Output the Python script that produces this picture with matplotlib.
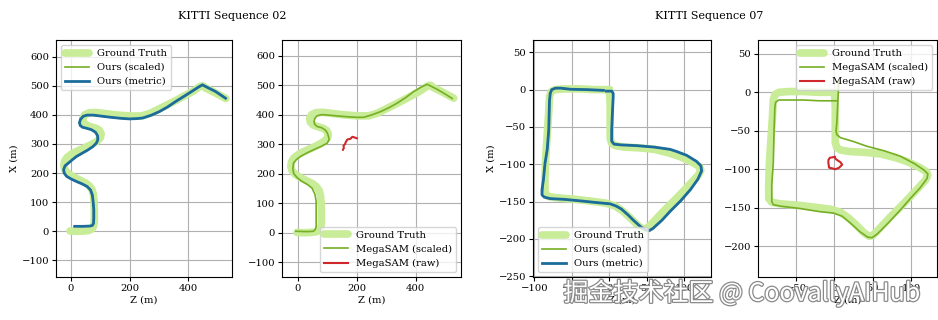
import matplotlib
matplotlib.use('Agg')
import matplotlib.patheffects as pe
import numpy as np
from matplotlib import pyplot as plt

# KITTI 02: (Z, X) in metres
GT_02_Z = [-3, 20, 45, 62, 73, 78, 80, 80, 79, 77, 72, 63, 50, 32, 12, -8, -20, -24, -22, -14,
           0, 20, 45, 70, 90, 101, 103, 97, 85, 68, 52, 42, 40, 47, 62, 85, 110, 150, 200, 240,
           270, 314, 350, 382, 415, 440, 450, 460, 490, 529]
GT_02_X = [1, 0, 1, 3, 9, 20, 35, 70, 100, 125, 143, 156, 166, 175, 185, 197, 210, 224, 240, 253,
           264, 275, 286, 298, 310, 322, 335, 347, 354, 359, 365, 375, 388, 400, 407, 408, 405, 400, 396, 396,
           405, 427, 445, 462, 480, 497, 500, 492, 477, 456]

OURS_02_Z = [13, 40, 65, 73, 77, 78, 78, 76, 73, 67, 55, 38, 19, 0, -15, -23, -25, -20, -9, 5,
             19, 40, 59, 75, 87, 92, 91, 84, 70, 53, 40, 32, 29, 33, 42, 55, 76, 100, 132, 170,
             200, 225, 245, 275, 302, 330, 358, 390, 415, 435, 449, 470, 494, 528]
OURS_02_X = [17, 17, 18, 20, 27, 45, 75, 100, 125, 142, 154, 163, 171, 180, 189, 200, 212, 225, 234, 246,
             257, 269, 280, 291, 303, 315, 328, 340, 349, 354, 357, 363, 373, 385, 395, 399, 399, 396, 392, 388,
             386, 387, 389, 399, 411, 427, 446, 466, 482, 495, 503, 492, 480, 457]
OURS_SC_02_Z = [12, 40, 65, 73, 77, 78, 78, 76, 73, 67, 55, 38, 19, 0, -15, -23, -24, -20, -9, 5,
                19, 40, 59, 75, 87, 91, 91, 84, 70, 53, 40, 32, 29, 33, 42, 55, 76, 100, 132, 170,
                200, 225, 245, 275, 302, 330, 358, 390, 415, 435, 448, 470, 494, 528]
OURS_SC_02_X = [18, 17, 18, 20, 27, 45, 75, 100, 125, 142, 154, 163, 171, 180, 189, 200, 212, 225, 234, 246,
                257, 269, 280, 291, 303, 315, 328, 340, 349, 354, 357, 363, 373, 385, 395, 399, 399, 396, 392, 388,
                386, 387, 389, 399, 411, 427, 446, 466, 482, 495, 502, 492, 480, 457]

MEGA_SC_02_Z = [-7, 20, 40, 53, 59, 62, 62, 62, 58, 48, 33, 14, -3, -14, -17, -15, -5, 8, 30, 53,
                80, 99, 106, 104, 100, 93, 80, 65, 57, 55, 58, 65, 80, 99, 130, 167, 200, 223, 250, 280,
                310, 337, 365, 393, 420, 439, 455, 473, 500, 524]
MEGA_SC_02_X = [5, 4, 4, 5, 11, 21, 60, 106, 130, 151, 163, 174, 187, 200, 215, 236, 248, 258, 270, 281,
                293, 303, 315, 326, 338, 348, 356, 360, 367, 377, 388, 396, 400, 399, 396, 393, 391, 391, 399, 410,
                424, 439, 457, 478, 494, 503, 495, 486, 470, 455]
MEGA_RAW_02_Z = [200, 192, 185, 178, 168, 163, 160, 155, 156, 153]
MEGA_RAW_02_X = [320, 323, 325, 318, 316, 308, 300, 295, 287, 281]

# KITTI 07
GT_07_Z = [0, 1, 1, 1, 3, 8, 20, 40, 60, 80, 95, 110, 120, 122, 119, 108, 90, 72, 58, 50,
           45, 38, 28, 18, 8, -5, -20, -45, -70, -82, -86, -86, -85, -83, -81, -80, -78, -73, -60, -40,
           -20, -5, 0]
GT_07_X = [0, -20, -45, -65, -72, -75, -77, -78, -80, -85, -90, -97, -103, -108, -114, -126, -145, -163, -178, -186,
           -187, -182, -172, -163, -156, -152, -150, -147, -145, -143, -138, -120, -90, -60, -30, -10, -3, 0, 1, 1,
           0, 0, 0]

OURS_07_Z = [-8, -30, -52, -65, -72, -77, -79, -80, -81, -83, -86, -88, -90, -90, -87, -79, -60, -39, -20, 1,
             9, 16, 25, 32, 42, 48, 53, 58, 70, 81, 95, 108, 118, 123, 122, 116, 103, 90, 81, 60,
             36, 15, 6, 3, 3, 4, 5, 5, 3, -4]
OURS_07_X = [-1, 0, 0.5, 2, 2, 0, -5, -15, -54, -80, -99, -120, -134, -141, -144, -146, -147, -149, -151, -153,
             -156, -160, -168, -175, -184, -188, -189, -186, -175, -163, -149, -134, -120, -109, -102, -96, -88, -83, -80, -77,
             -75, -74, -73, -69, -54, -30, -10, -5, -2, -2]
OURS_SC_07_Z = [-8, -30, -52, -65, -72, -77, -79, -80, -81, -83, -86, -88, -89, -90, -87, -79, -60, -39, -20, 1,
                9, 16, 25, 32, 42, 48, 53, 58, 70, 81, 95, 108, 118, 122, 122, 116, 103, 90, 81, 60,
                36, 15, 6, 3, 3, 4, 5, 5, 3, -4]
OURS_SC_07_X = [-1, 0, 0.5, 2, 2, 0, -5, -15, -54, -80, -99, -120, -134, -141, -144, -146, -147, -149, -151, -153,
                -156, -160, -168, -175, -184, -187, -188, -186, -175, -163, -149, -134, -120, -109, -102, -96, -88, -83, -80, -77,
                -75, -74, -73, -69, -54, -30, -10, -5, -2, -2]

MEGA_SC_07_Z = [5, 5, 4, 3, 2, 3, 8, 25, 42, 65, 86, 105, 117, 122, 121, 112, 100, 86, 70, 56,
                49, 43, 33, 21, 10, -1, -20, -45, -70, -80, -82, -82, -80, -79, -78, -77, -73, -60, -40, -20,
                -6, 3]
MEGA_SC_07_X = [14, 0, -20, -40, -50, -55, -59, -64, -70, -76, -83, -93, -101, -106, -112, -124, -137, -153, -170, -184,
                -189, -188, -181, -170, -161, -157, -155, -151, -148, -146, -142, -120, -92, -50, -20, -13, -10, -10, -10, -11,
                -11, -11]
MEGA_RAW_07_Z = [0, -6, -8, -8, -7, -2, 1, 6, 10, 8, 5, 2, 0]
MEGA_RAW_07_X = [-84, -85, -88, -92, -98, -99, -100, -98, -94, -91, -89, -87, -84]

C_GT = "#c8ec98"
C_SC = "#76ae24"
C_MET = "#1b6c9c"
C_RAW = "#d0282a"

plt.rcParams['font.family'] = 'DejaVu Serif'
plt.rcParams['font.size'] = 7.2
plt.rcParams['axes.unicode_minus'] = True

W, H = 938, 320
fig = plt.figure(figsize=(W / 100, H / 100), dpi=100)


def add_ax(left, right, top=40, bottom=277):
    return fig.add_axes([left / W, (H - bottom) / H, (right - left) / W, (bottom - top) / H])


def gt(ax, z, x):
    ax.plot(z, x, color=C_GT, lw=5.5, solid_capstyle='round', solid_joinstyle='round', label="Ground Truth")


def line(ax, z, x, color, lw, label):
    ax.plot(z, x, color=color, lw=lw, solid_joinstyle='round', label=label)


def style(ax, xlim, ylim, xticks, yticks, ylabel=True):
    ax.set_xlim(*xlim)
    ax.set_ylim(*ylim)
    ax.set_xticks(xticks)
    ax.set_yticks(yticks)
    ax.grid(True, color="#b0b0b0", lw=0.8)
    ax.set_axisbelow(True)
    ax.set_xlabel("Z (m)", labelpad=2)
    if ylabel:
        ax.set_ylabel("X (m)", labelpad=2)
    ax.tick_params(length=3, pad=2)


def legend(ax, loc):
    ax.legend(loc=loc, handlelength=2.4, fontsize=7.2, borderaxespad=0.5)


ax1 = add_ax(56, 232)
gt(ax1, GT_02_Z, GT_02_X)
line(ax1, OURS_SC_02_Z, OURS_SC_02_X, C_SC, 1.2, "Ours (scaled)")
line(ax1, OURS_02_Z, OURS_02_X, C_MET, 2.0, "Ours (metric)")
style(ax1, (-51, 550), (-157, 657), [0, 200, 400], np.arange(-100, 601, 100))
legend(ax1, "upper left")

ax2 = add_ax(282, 461)
gt(ax2, GT_02_Z, GT_02_X)
line(ax2, MEGA_SC_02_Z, MEGA_SC_02_X, C_SC, 1.2, "MegaSAM (scaled)")
line(ax2, MEGA_RAW_02_Z, MEGA_RAW_02_X, C_RAW, 1.5, "MegaSAM (raw)")
style(ax2, (-54, 554), (-150, 653), [0, 200, 400], np.arange(-100, 601, 100), ylabel=False)
legend(ax2, "lower right")

ax3 = add_ax(533, 711)
gt(ax3, GT_07_Z, GT_07_X)
line(ax3, OURS_SC_07_Z, OURS_SC_07_X, C_SC, 1.2, "Ours (scaled)")
line(ax3, OURS_07_Z, OURS_07_X, C_MET, 2.0, "Ours (metric)")
style(ax3, (-102, 135.5), (-251, 66.5), np.arange(-100, 101, 50), np.arange(-250, 51, 50))
legend(ax3, "lower left")

ax4 = add_ax(758, 937)
gt(ax4, GT_07_Z, GT_07_X)
line(ax4, MEGA_SC_07_Z, MEGA_SC_07_X, C_SC, 1.2, "MegaSAM (scaled)")
line(ax4, MEGA_RAW_07_Z, MEGA_RAW_07_X, C_RAW, 1.5, "MegaSAM (raw)")
style(ax4, (-100, 134), (-240, 68), np.arange(-50, 101, 50), np.arange(-200, 51, 50), ylabel=False)
legend(ax4, "upper right")

fig.text(232 / W, 1 - 16 / H, "KITTI Sequence 02", ha="center", va="center", fontsize=8)
fig.text(709 / W, 1 - 16 / H, "KITTI Sequence 07", ha="center", va="center", fontsize=8)

# site watermark
fig.text(742 / W, 1 - 293 / H, "掘金技术社区 @ CoovallyAIHub", ha="center", va="center", fontsize=18,
         color="white", family=['Noto Sans CJK SC', 'DejaVu Sans'],
         path_effects=[pe.withStroke(linewidth=1.8, foreground="#8a8a8a")])

fig.savefig("out.png", dpi=100)
